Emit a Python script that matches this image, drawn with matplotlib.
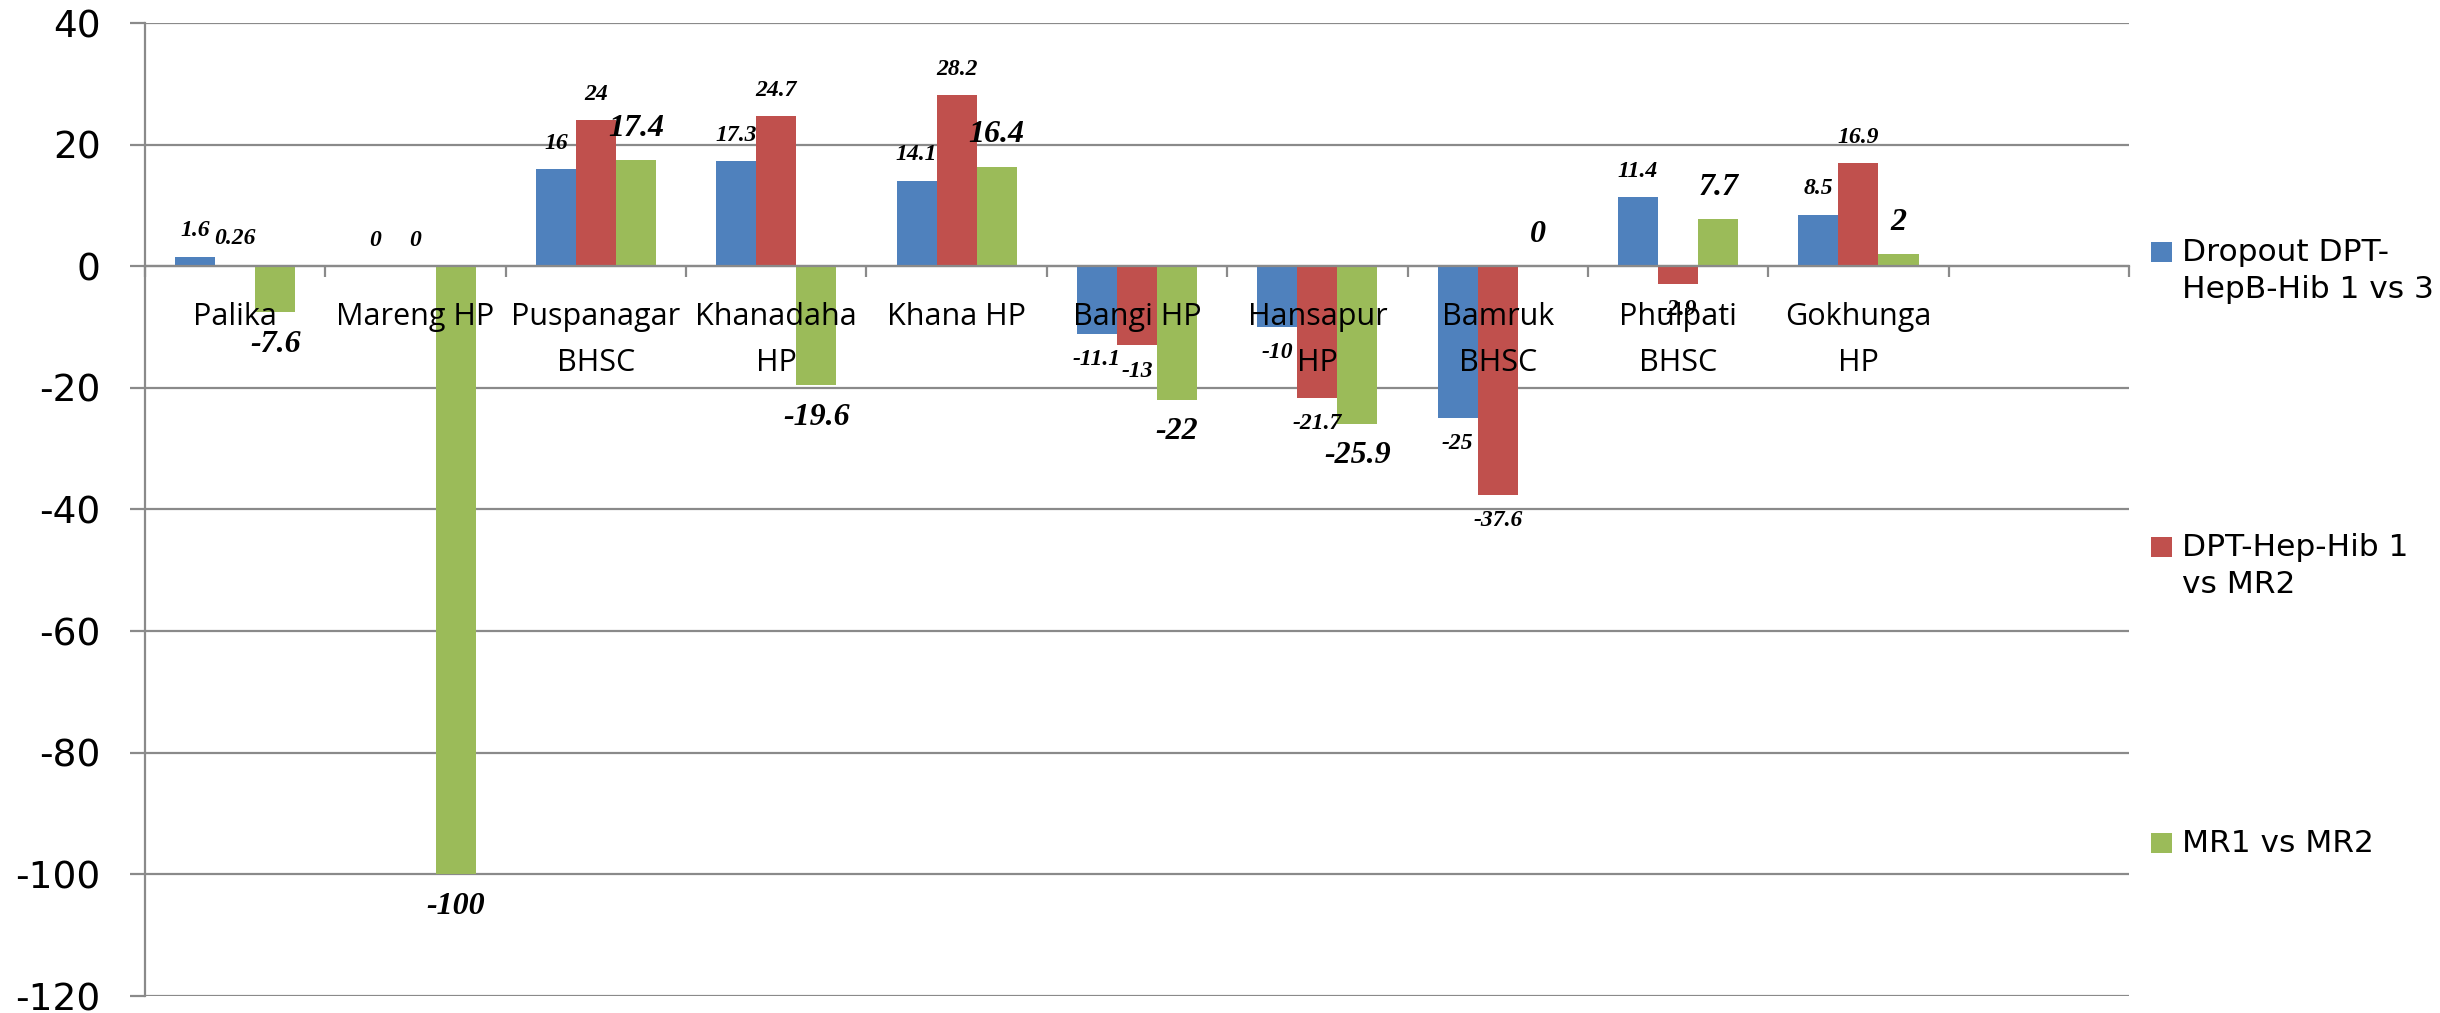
import matplotlib
matplotlib.use("Agg")
import matplotlib.pyplot as plt
import numpy as np
from matplotlib.patches import Rectangle

# ---------------- data ----------------
categories = ["Palika", "Mareng HP", "Puspanagar\nBHSC", "Khanadaha\nHP", "Khana HP",
              "Bangi HP", "Hansapur\nHP", "Bamruk\nBHSC", "Phulpati\nBHSC", "Gokhunga\nHP", ""]
dropout_dpt_1_vs_3 = [1.6, 0, 16, 17.3, 14.1, -11.1, -10, -25, 11.4, 8.5]
dpt_1_vs_mr2 = [0.26, 0, 24, 24.7, 28.2, -13, -21.7, -37.6, -2.9, 16.9]
mr1_vs_mr2 = [-7.6, -100, 17.4, -19.6, 16.4, -22, -25.9, 0, 7.7, 2]
series_names = ["Dropout DPT-\nHepB-Hib 1 vs 3", "DPT-Hep-Hib 1\nvs MR2", "MR1 vs MR2"]
y_ticks = [40, 20, 0, -20, -40, -60, -80, -100, -120]

# ---------------- style ----------------
colors = ["#4F81BD", "#C0504D", "#9BBB59"]
grid_c = "#8A8A8A"
W, H = 2440, 1013
fig = plt.figure(figsize=(W / 100, H / 100), dpi=100)
ax = fig.add_axes([145 / W, 1 - 996 / H, (2129 - 145) / W, (996 - 23) / H])

series = [dropout_dpt_1_vs_3, dpt_1_vs_mr2, mr1_vs_mr2]
n = len(dropout_dpt_1_vs_3)
x = np.arange(n)
bw = 1 / 4.5
label_sizes = [17, 17, 23]
label_offsets = [18.5, 18.5, 23]

ax.set_xlim(-0.5, len(categories) - 0.5)
ax.set_ylim(-120, 40)

# horizontal gridlines behind the bars
for t in y_ticks:
    ax.axhline(t, color=grid_c, linewidth=1.6, zorder=0.5)

for i, (vals, c) in enumerate(zip(series, colors)):
    xs = x + (i - 1) * bw
    ax.bar(xs, vals, bw, color=c, zorder=2, linewidth=0)
    for xi, v in zip(xs, vals):
        off = label_offsets[i] if v >= 0 else -label_offsets[i]
        ax.annotate(f"{v:g}", xy=(xi, v), xytext=(0, off), textcoords="offset points",
                    ha="center", va="center", fontsize=label_sizes[i],
                    family="Liberation Serif", fontweight="bold", fontstyle="italic",
                    zorder=6)

# y axis
ax.set_yticks(y_ticks)
ax.set_yticklabels([f"{t}" for t in y_ticks], family="DejaVu Sans", fontsize=27)
ax.tick_params(axis="y", direction="out", length=11, width=1.6, color=grid_c, pad=21)

# x axis: category boundaries as ticks, category names just below the zero line
ax.set_xticks(np.arange(len(categories) + 1) - 0.5)
ax.set_xticklabels([])
ax.tick_params(axis="x", direction="out", length=8, width=1.6, color=grid_c)
for i, name in enumerate(categories):
    if name:
        ax.annotate(name, xy=(i, 0), xytext=(0, -26), textcoords="offset points",
                    ha="center", va="top", family="Open Sans", fontsize=22,
                    linespacing=1.7, zorder=5, annotation_clip=False)

for s in ["top", "right"]:
    ax.spines[s].set_visible(False)
ax.spines["left"].set_color(grid_c)
ax.spines["left"].set_linewidth(1.6)
ax.spines["bottom"].set_position(("data", 0))
ax.spines["bottom"].set_color(grid_c)
ax.spines["bottom"].set_linewidth(1.6)
ax.spines["bottom"].set_zorder(4)

# ---------------- legend (manual, Excel-like) ----------------
marker_y = [252, 547, 843]
for name, c, my in zip(series_names, colors, marker_y):
    fig.add_artist(Rectangle((2151 / W, 1 - (my + 10) / H), 21 / W, 20 / H,
                             transform=fig.transFigure, facecolor=c, edgecolor="none"))
    fig.text(2182 / W, 1 - (my - 14) / H, name, family="DejaVu Sans", fontsize=22.5,
             va="top", ha="left", linespacing=1.35)

fig.savefig("out.png", dpi=100)
